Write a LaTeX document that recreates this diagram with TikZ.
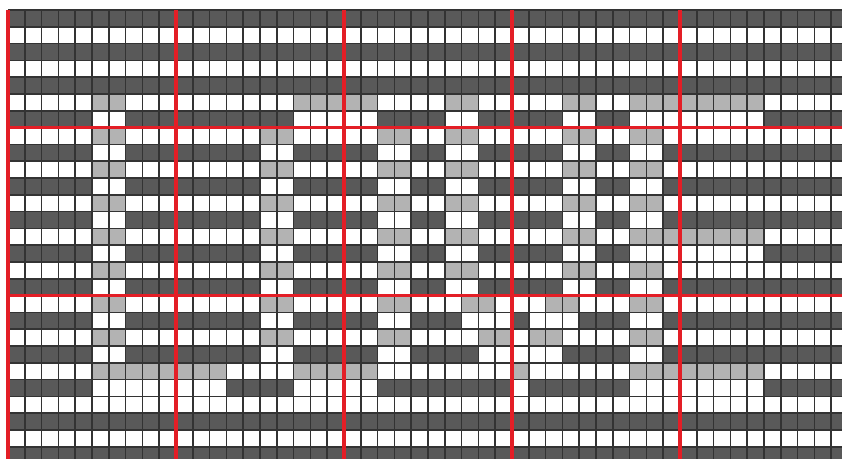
\documentclass[tikz,border=0pt]{standalone}
\usepackage{tikz}
\usepackage{xcolor}
\definecolor{shade1}{HTML}{595959}
\definecolor{shade2}{HTML}{B3B3B3}
\definecolor{rule1}{HTML}{333333}
\definecolor{guide}{HTML}{E31E26}

\begin{document}
\begin{tikzpicture}[x=5mm,y=-5mm,
    cellline/.style={rule1,line width=1.4pt},
    guideline/.style={guide,line width=3pt}]
        \useasboundingbox (-0.476,-0.595) rectangle (49.643,26.726);
        \clip (-0.476,-0.595) rectangle (49.643,26.726);
        % dark rows
        \foreach \r in {0,2,...,26}
          \fill[shade1] (0,\r) rectangle (50,\r+1);
        % floats: grey in light rows
        \foreach \r/\a/\b in {5/5/6,5/17/21,5/26/27,5/33/34,5/37/44,
            13/37/44,
            17/5/6,17/15/16,17/22/23,17/27/28,17/32/33,17/37/38,
            19/5/6,19/15/16,19/22/23,19/28/29,19/31/32,19/37/38,
            21/5/12,21/17/21,21/30/30,21/37/44}
          \fill[shade2] (\a,\r) rectangle (\b+1,\r+1);
        % floats: white in dark rows
        \foreach \r/\a/\b in {6/5/6,6/17/21,6/26/27,6/33/34,6/37/44,
            14/37/44,
            18/5/6,18/15/16,18/22/23,18/27/29,18/31/33,18/37/38,
            20/5/6,20/15/16,20/22/23,20/28/32,20/37/38,
            22/5/12,22/17/21,22/30/30,22/37/44}
          \fill[white] (\a,\r) rectangle (\b+1,\r+1);
        % straight stems
        \foreach \r in {7,9,11,13,15} {
          \foreach \a/\b in {5/6,15/16,22/23,26/27,33/34,37/38} {
            \fill[shade2] (\a,\r) rectangle (\b+1,\r+1);
            \fill[white] (\a,\r+1) rectangle (\b+1,\r+2);
          }
        }
        % cells
        \foreach \c in {0,...,50}
          \draw[cellline] (\c,0) -- (\c,27);
        \foreach \r in {0,...,27}
          \draw[cellline] (0,\r) -- (50,\r);
        % repeat guides
        \foreach \c in {0,10,...,40}
          \draw[guideline] (\c,0) -- (\c,27);
        \foreach \r in {7,17}
          \draw[guideline] (0,\r) -- (50,\r);
      \end{tikzpicture}
\end{document}
